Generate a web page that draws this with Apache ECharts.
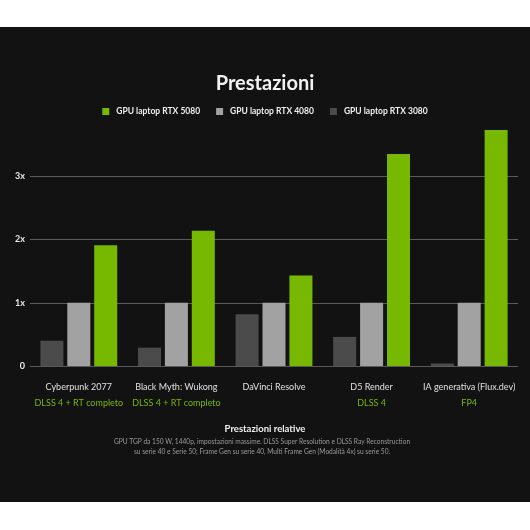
<!DOCTYPE html>
<html>
<head>
<meta charset="utf-8">
<script src="https://cdn.jsdelivr.net/npm/echarts@6/dist/echarts.min.js"></script>
<style>
html,body{margin:0;padding:0;background:#fff;}
#c{width:530px;height:530px;}
</style>
</head>
<body>
<div id="c"></div>
<script>
const categories = ['Cyberpunk 2077', 'Black Myth: Wukong', 'DaVinci Resolve', 'D5 Render', 'IA generativa (Flux.dev)'];
const subLabels = ['DLSS 4 + RT completo', 'DLSS 4 + RT completo', '', 'DLSS 4', 'FP4'];
const rtx3080 = [0.40, 0.29, 0.82, 0.46, 0.04];
const rtx4080 = [1, 1, 1, 1, 1];
const rtx5080 = [1.91, 2.14, 1.43, 3.35, 3.73];
const seriesNames = ['GPU laptop RTX 3080', 'GPU laptop RTX 4080', 'GPU laptop RTX 5080'];
const legendOrder = ['GPU laptop RTX 5080', 'GPU laptop RTX 4080', 'GPU laptop RTX 3080'];
const yTicks = {0: '0', 1: '1x', 2: '2x', 3: '3x'};
const footnote = 'GPU TGP da 150 W, 1440p, impostazioni massime. DLSS Super Resolution e DLSS Ray Reconstruction\nsu serie 40 e Serie 50; Frame Gen su serie 40, Multi Frame Gen (Modalità 4x) su serie 50.';

const FONT = 'Lato';
const chart = echarts.init(document.getElementById('c'));
chart.setOption({
  backgroundColor: '#ffffff',
  textStyle: {fontFamily: FONT},
  graphic: [{
    type: 'rect', z: -10, silent: true,
    shape: {x: 0, y: 27, width: 530, height: 475},
    style: {fill: '#121212'}
  }, {
    type: 'text', silent: true, x: 262, y: 437,
    style: {text: footnote, fill: '#9a9a9a', font: '6.6px Lato', textAlign: 'center', lineHeight: 10}
  }],
  title: [
    {text: 'Prestazioni', left: 'center', top: 69,
     textStyle: {color: '#f2f2f2', fontSize: 20, fontWeight: 'bold', fontFamily: FONT}},
    {text: 'Prestazioni relative', left: 'center', top: 419,
     textStyle: {color: '#f0f0f0', fontSize: 9.5, fontWeight: 'bold', fontFamily: FONT}}
  ],
  legend: {
    data: legendOrder, top: 102, left: 'center',
    itemWidth: 7, itemHeight: 7, itemGap: 16,
    icon: 'rect',
    textStyle: {color: '#f0f0f0', fontSize: 8.5, fontWeight: 'bold', fontFamily: FONT, padding: [0, 0, 0, 2]}
  },
  grid: {left: 30, right: 12, top: 113, bottom: 164},
  xAxis: {
    type: 'category', data: categories,
    axisLine: {show: false}, axisTick: {show: false},
    axisLabel: {
      interval: 0, margin: 13,
      formatter: function (v, i) { return '{a|' + v + '}\n{b|' + (subLabels[i] || ' ') + '}'; },
      rich: {
        a: {color: '#e0e0e0', fontSize: 9, lineHeight: 16, fontFamily: FONT},
        b: {color: '#76b900', fontSize: 9, lineHeight: 16, fontFamily: FONT}
      }
    }
  },
  yAxis: {
    type: 'value', min: 0, max: 4, interval: 1,
    axisLine: {show: false}, axisTick: {show: false},
    axisLabel: {
      color: '#e8e8e8', fontSize: 9, fontWeight: 'bold', margin: 5, fontFamily: FONT,
      showMaxLabel: false,
      formatter: function (v) { return yTicks[v] !== undefined ? yTicks[v] : ''; }
    },
    splitLine: {showMaxLine: false, lineStyle: {color: '#5a5a5a', width: 1}}
  },
  series: [
    {name: seriesNames[0], type: 'bar', data: rtx3080, barWidth: 23, barGap: '17%',
     itemStyle: {color: '#4b4b4b'}},
    {name: seriesNames[1], type: 'bar', data: rtx4080, barWidth: 23, barGap: '17%',
     itemStyle: {color: '#a2a2a2'}},
    {name: seriesNames[2], type: 'bar', data: rtx5080, barWidth: 23, barGap: '17%',
     itemStyle: {color: '#76b900'}}
  ]
});
</script>
</body>
</html>
